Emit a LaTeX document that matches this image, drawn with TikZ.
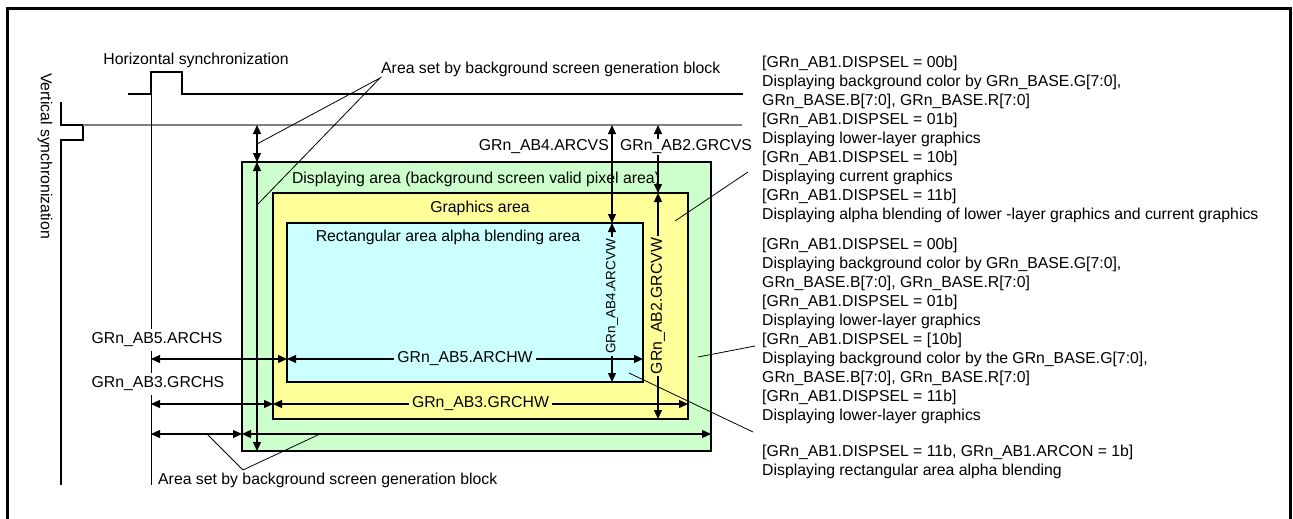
\documentclass[tikz,border=0pt]{standalone}
\usepackage{fontspec}
\setmainfont{Liberation Sans}
\usetikzlibrary{positioning,arrows.meta}
\definecolor{dispgreen}{RGB}{204,255,204}
\definecolor{grphyellow}{RGB}{255,255,153}
\definecolor{rectcyan}{RGB}{204,255,255}
\definecolor{blankgray}{gray}{0.5}

\begin{document}
\begin{tikzpicture}[x=1pt,y=-1pt,>={Triangle[length=9pt,width=8pt]},
  txt/.style={font=\fontsize{15.8}{19}\selectfont,inner sep=1pt},
  smalltxt/.style={font=\fontsize{13.5}{16}\selectfont,inner sep=2pt},
  area/.style={draw,line width=2pt,inner sep=0pt,outer sep=0pt},
  sig/.style={line width=1.8pt},
  dim/.style={<->,line width=1.2pt},
  call/.style={line width=0.8pt},
  note/.style={txt,align=left,anchor=north west,inner sep=0pt}]
\useasboundingbox (0,0) rectangle (1293,519);
\draw[line width=3pt] (7,521) -- (7,9) -- (1290,9) -- (1290,521);

% display areas
\node[area,fill=dispgreen,minimum width=469pt,minimum height=289pt] (disp) at (476.5,306.5) {};
\node[area,fill=grphyellow,minimum width=415pt,minimum height=226pt] (grph) at (480.5,306) {};
\node[area,fill=rectcyan,minimum width=356pt,minimum height=159pt] (rect) at (465,302.5) {};
\node[txt] (dispL) at (476,179) {Displaying area (background screen valid pixel area)};
\node[txt] (grphL) at (480,208) {Graphics area};
\node[txt] (rectL) at (448,237) {Rectangular area alpha blending area};

% sync signals
\coordinate (hs0) at (128,94);
\coordinate (hsE) at (743,94);
\draw[sig] (hs0) -- ++(23,0) -- ++(0,-22) -- ++(31,0) -- ++(0,22) -- (hsE);
\node[txt] (hsL) at (196,60) {Horizontal synchronization};
\coordinate (vs0) at (61,102);
\coordinate (vsE) at (61,485);
\draw[sig] (vs0) -- ++(0,23) -- ++(22,0) -- ++(0,15) -- ++(-22,0) -- (vsE);
\node[txt,rotate=-90] (vsL) at (45,156) {Vertical synchronization};
\coordinate (bk0) at (83,125);
\coordinate (bkE) at (742,125);
\draw[line width=1.5pt,blankgray] (bk0) -- (bkE);
\coordinate (hr0) at (151,94);
\coordinate (hrE) at (151,485);
\draw[line width=1pt] (hr0) -- (hrE);

% dimensions
\coordinate (c1) at (257,125);
\coordinate (c2) at (612,125);
\coordinate (c3) at (658,125);
\coordinate (r1) at (151,359);
\coordinate (r2) at (151,404);
\coordinate (r3) at (151,434);
\draw[dim] (c1) -- (c1 |- disp.north);
\draw[dim] (c1 |- disp.north) -- (c1 |- disp.south);
\draw[dim] (c2) -- (c2 |- rect.north);
\draw[dim] (c2 |- rect.north) -- (c2 |- rect.south)
  node[smalltxt,pos=0.46,rotate=90,fill=rectcyan] (arcvwL) {GRn\_AB4.ARCVW};
\draw[dim] (c3) -- (c3 |- grph.north);
\draw[dim] (c3 |- grph.north) -- (c3 |- grph.south)
  node[txt,midway,rotate=90,fill=grphyellow,inner sep=2pt] (grcvwL) {GRn\_AB2.GRCVW};
\draw[dim] (r1) -- (r1 -| rect.west);
\draw[dim] (r1 -| rect.west) -- (r1 -| rect.east)
  node[txt,midway,fill=rectcyan,inner sep=3pt] (archwL) {GRn\_AB5.ARCHW};
\draw[dim] (r2) -- (r2 -| grph.west);
\draw[dim] (r2 -| grph.west) -- (r2 -| grph.east)
  node[txt,midway,fill=grphyellow,inner sep=3pt] (grchwL) {GRn\_AB3.GRCHW};
\draw[dim] (r3) -- (r3 -| disp.west);
\draw[dim] (r3 -| disp.west) -- (r3 -| disp.east);
\node[txt,anchor=east] (arcvsL) at (610,147) {GRn\_AB4.ARCVS};
\node[txt,fill=white] (grcvsL) at (686,147) {GRn\_AB2.GRCVS};
\node[txt,fill=white,inner sep=4pt] (archsL) at (157,340) {GRn\_AB5.ARCHS};
\node[txt,fill=white,inner sep=4pt] (grchsL) at (158,384) {GRn\_AB3.GRCHS};

% background block callouts
\node[txt,anchor=south west] (areaT) at (380,78) {Area set by background screen generation block};
\coordinate (t1) at (257,144);
\coordinate (t2) at (257,205);
\draw[call] (t1) -- (areaT.south west) -- (t2);
\node[txt,anchor=west] (areaB) at (157,480) {Area set by background screen generation block};
\coordinate (bcall) at (243,470);
\coordinate (b1) at (207,434);
\coordinate (b2) at (320,434);
\draw[call] (b1) -- (bcall) -- (b2);

% notes
\node[note] (noteG) at (762,56) {{[}GRn\_AB1.DISPSEL = 00b]\\
  Displaying background color by GRn\_BASE.G[7:0],\\
  GRn\_BASE.B[7:0], GRn\_BASE.R[7:0]\\
  {[}GRn\_AB1.DISPSEL = 01b]\\
  Displaying lower-layer graphics\\
  {[}GRn\_AB1.DISPSEL = 10b]\\
  Displaying current graphics\\
  {[}GRn\_AB1.DISPSEL = 11b]\\
  Displaying alpha blending of lower -layer graphics and current graphics};
\node[note] (noteD) at (762,238) {{[}GRn\_AB1.DISPSEL = 00b]\\
  Displaying background color by GRn\_BASE.G[7:0],\\
  GRn\_BASE.B[7:0], GRn\_BASE.R[7:0]\\
  {[}GRn\_AB1.DISPSEL = 01b]\\
  Displaying lower-layer graphics\\
  {[}GRn\_AB1.DISPSEL = [10b]\\
  Displaying background color by the GRn\_BASE.G[7:0],\\
  GRn\_BASE.B[7:0], GRn\_BASE.R[7:0]\\
  {[}GRn\_AB1.DISPSEL = 11b]\\
  Displaying lower-layer graphics};
\node[note] (noteR) at (762,445) {{[}GRn\_AB1.DISPSEL = 11b, GRn\_AB1.ARCON = 1b]\\
  Displaying rectangular area alpha blending};
\coordinate (pg) at (675,221);
\coordinate (qg) at (748,172);
\coordinate (pd) at (698,357);
\coordinate (qd) at (755,346);
\coordinate (pr) at (629,373);
\coordinate (qr) at (753,432);
\draw[call] (pg) -- (qg);
\draw[call] (pd) -- (qd);
\draw[call] (pr) -- (qr);
\end{tikzpicture}
\end{document}
